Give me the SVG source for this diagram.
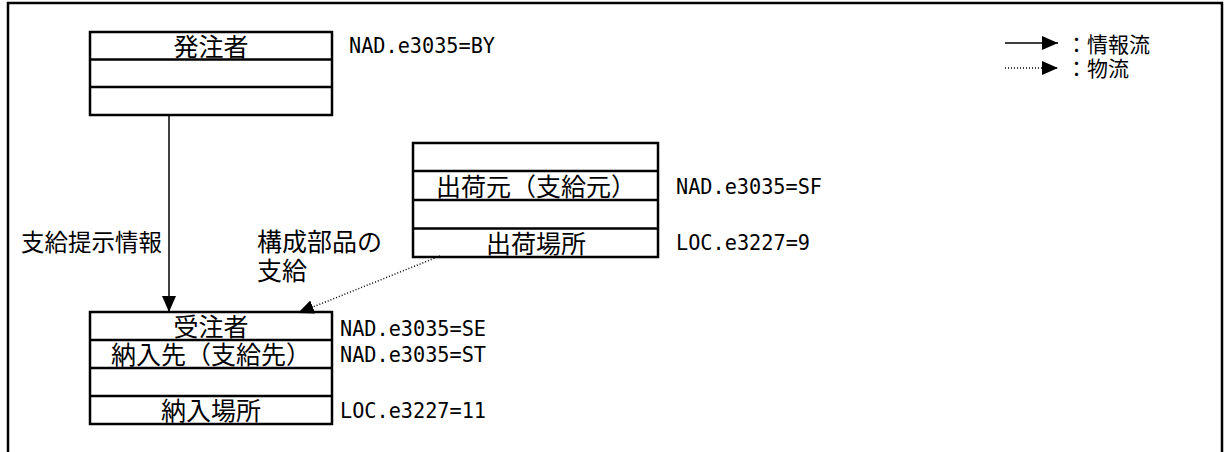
<svg xmlns="http://www.w3.org/2000/svg" width="1225" height="452" viewBox="0 0 1225 452">
<style>
.box{fill:#fff;stroke:#000;stroke-width:2.5}
.div{stroke:#000;stroke-width:2.5}
.jp{font-family:"Noto Sans CJK JP","Noto Sans",sans-serif;font-size:25px;fill:#000}
.lg{font-family:"Noto Sans CJK JP","Noto Sans",sans-serif;font-size:21px;fill:#000}
.mono{font-family:"DejaVu Sans Mono","Liberation Mono",monospace;font-size:22px;fill:#000}
.c{text-anchor:middle;dominant-baseline:central}
.solid{stroke:#000;stroke-width:1.5;fill:none}
.dot{stroke:#000;stroke-width:1.5;fill:none;stroke-dasharray:1 2}
</style>
<defs>
<marker id="ah" markerUnits="userSpaceOnUse" markerWidth="16" markerHeight="14" refX="16" refY="7" orient="auto">
<path d="M0,0 L16,7 L0,14 z" fill="#000"/>
</marker>
</defs>
<rect width="1225" height="452" fill="#fff"/>
<path d="M8,460 V3 H1222 V460" fill="none" stroke="#000" stroke-width="2.5"/>

<g id="orderer">
<rect class="box" x="90" y="32" width="242" height="83"/>
<line class="div" x1="90" y1="59.5" x2="332" y2="59.5"/>
<line class="div" x1="90" y1="87" x2="332" y2="87"/>
<text class="jp c" x="211" y="45">発注者</text>
<text class="mono" x="349" y="53" textLength="146" lengthAdjust="spacingAndGlyphs">NAD.e3035=BY</text>
</g>

<g id="shipper">
<rect class="box" x="413" y="143" width="245" height="114"/>
<line class="div" x1="413" y1="171" x2="658" y2="171"/>
<line class="div" x1="413" y1="200" x2="658" y2="200"/>
<line class="div" x1="413" y1="228.5" x2="658" y2="228.5"/>
<text class="jp c" x="536" y="185">出荷元（支給元）</text>
<text class="jp c" x="536" y="242">出荷場所</text>
<text class="mono" x="676" y="194" textLength="146" lengthAdjust="spacingAndGlyphs">NAD.e3035=SF</text>
<text class="mono" x="676" y="250" textLength="134" lengthAdjust="spacingAndGlyphs">LOC.e3227=9</text>
</g>

<g id="receiver">
<rect class="box" x="90" y="312" width="242" height="112"/>
<line class="div" x1="90" y1="340" x2="332" y2="340"/>
<line class="div" x1="90" y1="368" x2="332" y2="368"/>
<line class="div" x1="90" y1="396" x2="332" y2="396"/>
<text class="jp c" x="211" y="325">受注者</text>
<text class="jp c" x="211" y="353">納入先（支給先）</text>
<text class="jp c" x="211" y="409">納入場所</text>
<text class="mono" x="340" y="336" textLength="146" lengthAdjust="spacingAndGlyphs">NAD.e3035=SE</text>
<text class="mono" x="340" y="362" textLength="146" lengthAdjust="spacingAndGlyphs">NAD.e3035=ST</text>
<text class="mono" x="340" y="418" textLength="146" lengthAdjust="spacingAndGlyphs">LOC.e3227=11</text>
</g>

<g id="connectors">
<line class="solid" x1="169" y1="115" x2="169" y2="312" marker-end="url(#ah)"/>
<line class="dot" x1="440" y1="256" x2="298" y2="313" marker-end="url(#ah)"/>
<line class="solid" x1="1005" y1="43" x2="1058" y2="43" marker-end="url(#ah)"/>
<line class="dot" x1="1005" y1="68" x2="1058" y2="68" marker-end="url(#ah)"/>
</g>

<g id="labels">
<text class="jp" x="21" y="251" style="font-size:23.5px">支給提示情報</text>
<text class="jp" x="257" y="251">構成部品の</text>
<text class="jp" x="257" y="280">支給</text>
<text class="lg" x="1066" y="52">：情報流</text>
<text class="lg" x="1066" y="76">：物流</text>
</g>
</svg>
